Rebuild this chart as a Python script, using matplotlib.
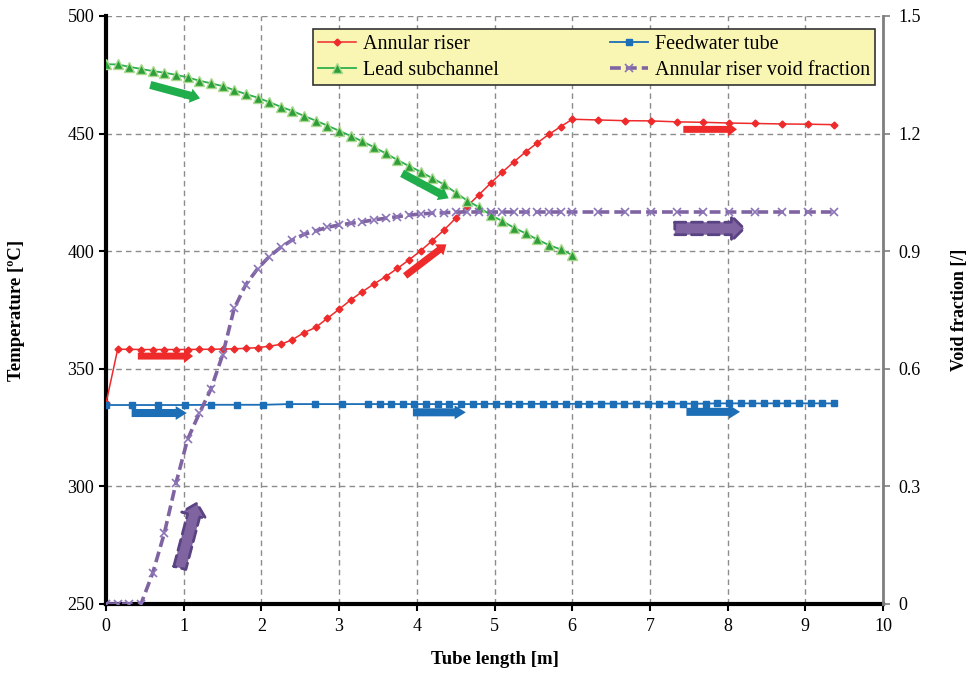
import matplotlib
matplotlib.use("Agg")
import matplotlib.pyplot as plt
from matplotlib.patches import FancyArrowPatch, ArrowStyle

plt.rcParams['font.family'] = ['Liberation Serif', 'DejaVu Serif']

# ---------------- data ----------------
x_fine = [0.00, 0.15, 0.30, 0.45, 0.60, 0.75, 0.90, 1.05, 1.20, 1.35, 1.50, 1.65, 1.80, 1.95,
          2.10, 2.25, 2.40, 2.55, 2.70, 2.85, 3.00, 3.15, 3.30, 3.45, 3.60, 3.75, 3.90, 4.05,
          4.20, 4.35, 4.50, 4.65, 4.80, 4.95, 5.10, 5.25, 5.40, 5.55, 5.70, 5.85, 6.00]
x_tail = [6.337, 6.674, 7.011, 7.348, 7.685, 8.022, 8.359, 8.696, 9.033, 9.370]

riser_T = [335.3, 358.3, 358.3, 358.2, 358.2, 358.2, 358.2, 358.2, 358.3, 358.3, 358.4, 358.5, 358.7,
           359.0, 359.6, 360.4, 362.4, 365.4, 367.6, 371.5, 375.3, 379.3, 382.8, 386.1, 389.2,
           392.7, 396.3, 400.2, 404.5, 409.0, 414.0, 419.2, 424.0, 428.9, 433.6, 438.0, 442.2,
           446.0, 449.7, 452.9, 456.1,
           455.8, 455.5, 455.4, 455.0, 454.8, 454.5, 454.3, 454.1, 454.0, 453.8]

void_frac = [0.0, 0.0, 0.0, 0.0, 0.078, 0.18, 0.308, 0.42, 0.486, 0.548, 0.635, 0.754, 0.815,
             0.855, 0.886, 0.91, 0.929, 0.943, 0.952, 0.961, 0.967, 0.971, 0.975, 0.98, 0.984,
             0.988, 0.992, 0.995, 0.997, 0.998, 1.0, 1.0, 1.0, 1.0, 1.0, 1.0, 1.0, 1.0, 1.0,
             1.0, 1.0,
             1.0, 1.0, 1.0, 1.0, 1.0, 1.0, 1.0, 1.0, 1.0, 1.0]

lead_T = [479.5, 479.4, 478.4, 477.5, 476.6, 475.9, 475.0, 473.9, 472.5, 471.4, 470.2, 468.5,
          466.8, 465.3, 463.4, 461.4, 459.6, 457.5, 455.5, 453.4, 451.2, 449.0, 446.7, 444.2,
          441.6, 438.8, 436.2, 433.8, 431.0, 428.4, 424.9, 421.5, 418.7, 415.4, 412.8, 410.0,
          407.6, 405.0, 402.6, 400.8, 398.4]

feed_x = [0.000, 0.337, 0.674, 1.011, 1.348, 1.685, 2.022, 2.359, 2.696, 3.033,
          3.37, 3.52, 3.67, 3.82, 3.97, 4.12, 4.27, 4.42, 4.57, 4.72, 4.87, 5.02, 5.17, 5.32,
          5.47, 5.62, 5.77, 5.92, 6.07, 6.22, 6.37, 6.52, 6.67, 6.82, 6.97, 7.12, 7.27, 7.42,
          7.57, 7.72, 7.87, 8.02, 8.17, 8.32, 8.47, 8.62, 8.77, 8.92, 9.07, 9.22, 9.37]
feed_T = [334.6, 334.6, 334.6, 334.6, 334.7, 334.7, 334.7, 335.0, 335.0, 335.0,
          335.0, 335.0, 335.0, 335.0, 335.0, 335.0, 335.0, 335.0, 335.0, 335.0,
          335.1, 335.1, 335.1, 335.1, 335.1, 335.1, 335.1, 335.1, 335.1, 335.1,
          335.2, 335.2, 335.2, 335.2, 335.2, 335.2, 335.2, 335.2, 335.2, 335.2,
          335.3, 335.3, 335.3, 335.3, 335.3, 335.3, 335.3, 335.3, 335.3, 335.3, 335.3]

x_riser = x_fine + x_tail

labels = ["Annular riser", "Feedwater tube", "Lead subchannel", "Annular riser void fraction"]
x_ticks = [0, 1, 2, 3, 4, 5, 6, 7, 8, 9, 10]
t_ticks = [250, 300, 350, 400, 450, 500]
v_ticks = [0, 0.3, 0.6, 0.9, 1.2, 1.5]
v_ticklabels = ["0", "0.3", "0.6", "0.9", "1.2", "1.5"]

# direction arrows: (axis, start, end, kind)
arrows = [
    ("T", (0.41, 355.4), (1.12, 355.4), "red"),
    ("T", (3.85, 389.5), (4.38, 402.9), "red"),
    ("T", (7.43, 451.8), (8.12, 451.8), "red"),
    ("T", (0.33, 331.2), (1.04, 331.2), "blue"),
    ("T", (3.95, 331.5), (4.63, 331.5), "blue"),
    ("T", (7.47, 331.7), (8.16, 331.7), "blue"),
    ("T", (0.57, 470.7), (1.21, 465.0), "green"),
    ("T", (3.81, 433.1), (4.41, 422.5), "green"),
    ("V", (0.95, 0.092), (1.17, 0.257), "purple"),
    ("V", (7.32, 0.958), (8.21, 0.958), "purple"),
]

# ---------------- figure ----------------
RED = '#EE2A2A'
BLUE = '#1C6EB6'
GREEN = '#2DB04E'
PURPLE = '#8064A2'
GRID = '#8C8C8C'

fig = plt.figure(figsize=(9.72, 6.73), dpi=100)
ax = fig.add_axes([106 / 972, 69 / 673, 777 / 972, 588 / 673])
ax2 = ax.twinx()

ax.set_xlim(0, 10)
ax.set_ylim(250, 500)
ax2.set_ylim(0, 1.5)

l_riser, = ax.plot(x_riser, riser_T, color=RED, lw=1.1, marker='D', ms=3.5,
                   mfc=RED, mec=RED, zorder=4)
l_feed, = ax.plot(feed_x, feed_T, color=BLUE, lw=1.3, marker='s', ms=5,
                  mfc=BLUE, mec=BLUE, zorder=4)
l_lead, = ax.plot(x_fine, lead_T, color=GREEN, lw=1.3, marker='^', ms=6.5,
                  mfc='#2E9E3A', mec='#A9D98C', mew=1.0, zorder=4)
l_void, = ax2.plot(x_riser, void_frac, color=PURPLE, lw=2.6, ls=(0, (3, 1.4)),
                   marker='x', ms=5.5, mec='#8B74B8', mew=1.2, zorder=4)

ax.set_xticks(x_ticks)
ax.set_yticks(t_ticks)
ax2.set_yticks(v_ticks)
ax2.set_yticklabels(v_ticklabels)

ax.grid(True, color=GRID, linestyle=(0, (4, 3)), lw=1.0)
ax.set_axisbelow(True)

for s in ['top', 'right']:
    ax.spines[s].set_visible(False)
ax.spines['left'].set_linewidth(3)
ax.spines['bottom'].set_linewidth(3)
ax.spines['left'].set_color('black')
ax.spines['bottom'].set_color('black')
for s in ['top', 'left', 'bottom']:
    ax2.spines[s].set_visible(False)
ax2.spines['right'].set_color('#7F7F7F')
ax2.spines['right'].set_linewidth(2)

ax.tick_params(axis='both', direction='out', length=5, width=1.5, labelsize=13, colors='black')
ax.tick_params(axis='x', pad=5)
ax2.tick_params(axis='y', direction='out', length=5, width=1.2, color='#7F7F7F',
                labelcolor='black', labelsize=13, pad=6)

ax.set_xlabel("Tube length [m]", fontsize=13.5, fontweight='bold')
ax.set_ylabel("Temperature [ºC]", fontsize=13.5, fontweight='bold')
ax2.set_ylabel("Void fraction [/]", fontsize=13, fontweight='bold', rotation=90)
ax.xaxis.set_label_coords(0.5, -0.08)
ax.yaxis.set_label_coords(-0.104, 0.5)
ax2.yaxis.set_label_coords(1.088, 0.5)

# arrows
styles = {
    "red": dict(fc=RED, ec=RED, lw=0, tail=5.0, hw=10.0, hl=6.5, ls='-'),
    "blue": dict(fc=BLUE, ec=BLUE, lw=0, tail=5.8, hw=10.0, hl=8.0, ls='-'),
    "green": dict(fc='#1FAE4B', ec='#1FAE4B', lw=0, tail=5.8, hw=10.5, hl=7.0, ls='-'),
    "purple": dict(fc=PURPLE, ec='#5A4382', lw=2.0, tail=9.0, hw=18.0, hl=9.0, ls=(0, (4, 2))),
}
for which, p0, p1, kind in arrows:
    st = styles[kind]
    trans = ax.transData if which == "T" else ax2.transData
    style = ArrowStyle.Simple(head_length=st['hl'], head_width=st['hw'], tail_width=st['tail'])
    patch = FancyArrowPatch(p0, p1, arrowstyle=style, mutation_scale=1, transform=trans,
                            fc=st['fc'], ec=st['ec'], lw=st['lw'], linestyle=st['ls'],
                            shrinkA=0, shrinkB=0, zorder=10)
    ax2.add_patch(patch)

leg = ax2.legend([l_riser, l_lead, l_feed, l_void],
                 [labels[0], labels[2], labels[1], labels[3]],
                 ncol=2, loc='lower left', bbox_to_anchor=(0.266, 0.883, 0.724, 0.107),
                 mode='expand', borderaxespad=0, fontsize=14.5, frameon=True, fancybox=False,
                 handlelength=1.9, handletextpad=0.35, borderpad=0.25, labelspacing=0.35,
                 columnspacing=1.0)
leg.get_frame().set_facecolor('#F9F5B3')
leg.get_frame().set_edgecolor('#333333')
leg.get_frame().set_linewidth(1.2)
leg.get_frame().set_alpha(1)
leg.set_zorder(20)

fig.savefig("out.png", dpi=100)
